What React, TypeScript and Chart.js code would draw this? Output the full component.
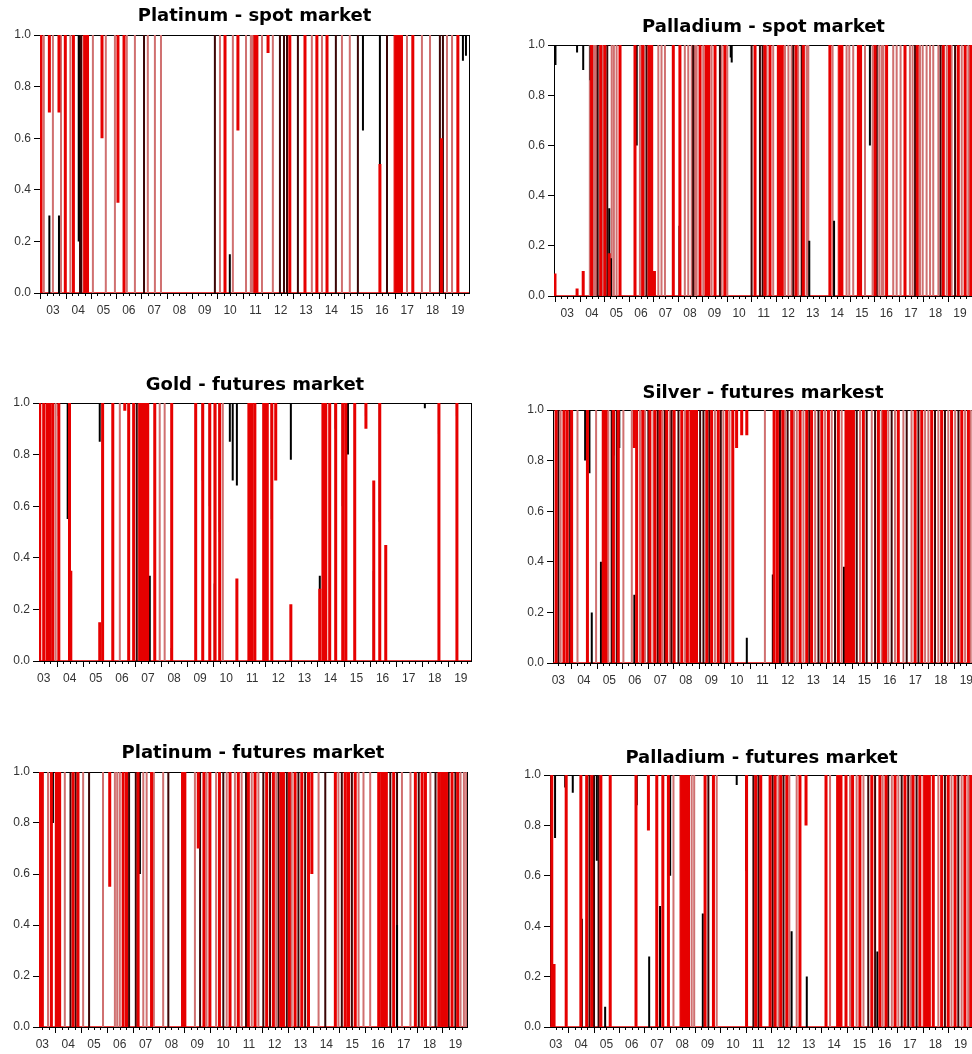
import React, { useEffect, useRef } from "react";
import { Chart, registerables } from "chart.js";

Chart.register(...registerables);

type Seg = [number, number, number];
type Band = [number, number];

// ---------------- axis labels ----------------
const xTickYears = [2003, 2004, 2005, 2006, 2007, 2008, 2009, 2010, 2011, 2012, 2013, 2014, 2015, 2016, 2017, 2018, 2019];
const yTickValues = [0, 0.2, 0.4, 0.6, 0.8, 1.0];

// ---------------- Platinum - spot market ----------------
const ptSpotPeriod = [2002.99, 2019.94];
const ptSpotBold = [2003.03, 2003.99, 2004.31, 2006.31, 2010.3, 2011.48, 2011.56, 2012.86, 2013.46, 2013.93, 2014.33, 2017.72, 2019.5];
const ptSpotThin = [2003.14, 2003.5, 2003.82, 2004.19, 2005.08, 2005.59, 2005.95, 2006.42, 2006.74, 2007.25, 2007.53, 2007.77, 2010.1, 2010.61, 2011.13, 2011.32, 2011.4, 2011.76, 2012.19, 2013.73, 2014.13, 2014.92, 2015.23, 2017.49, 2018.08, 2018.4, 2019.07, 2019.27];
const ptSpotDark = [2004.57, 2004.62, 2007.1, 2009.9, 2012.47, 2012.63, 2012.75, 2013.18, 2014.68, 2015.55, 2016.7, 2018.79, 2018.91];
const ptSpotBands: Band[] = [[2004.7, 2004.9], [2016.98, 2017.3]];
const ptSpotRedPart: Seg[] = [[2003.36, 1, 0.7], [2003.74, 1, 0.7], [2005.44, 1, 0.6], [2006.07, 1, 0.35], [2010.81, 1, 0.63], [2012.0, 1, 0.93], [2016.42, 0, 0.5], [2018.85, 0, 0.6]];
const ptSpotBlackPart: Seg[] = [[2003.36, 0, 0.3], [2003.74, 0, 0.3], [2004.52, 1, 0.2], [2010.49, 0, 0.15], [2015.75, 1, 0.63], [2016.42, 1, 0.5], [2019.7, 1, 0.9], [2019.82, 1, 0.92]];

// ---------------- Palladium - spot market ----------------
const pdSpotPeriod = [2002.96, 2020.03];
const pdSpotBold = [2004.49, 2004.86, 2005.03, 2005.65, 2006.26, 2006.57, 2006.83, 2006.94, 2007.82, 2008.09, 2008.91, 2009.52, 2009.92, 2011.15, 2011.55, 2011.76, 2012.1, 2012.17, 2012.26, 2012.82, 2013.12, 2014.2, 2015.36, 2015.45, 2016.04, 2016.51, 2017.26, 2017.76, 2018.82, 2019.07, 2019.43, 2019.71, 2019.94];
const pdSpotThin = [2004.42, 2004.59, 2004.67, 2004.94, 2005.31, 2005.4, 2005.51, 2006.46, 2006.64, 2007.21, 2007.34, 2007.48, 2008.29, 2008.43, 2008.57, 2008.7, 2008.77, 2009.04, 2009.38, 2009.79, 2010.02, 2011.62, 2011.89, 2012.37, 2012.51, 2012.64, 2012.91, 2013.25, 2013.32, 2014.31, 2014.88, 2014.99, 2015.15, 2015.63, 2015.94, 2016.21, 2016.31, 2016.38, 2016.78, 2016.92, 2017.08, 2017.46, 2017.57, 2017.87, 2017.98, 2018.14, 2018.28, 2018.41, 2018.62, 2018.96, 2019.16, 2019.57, 2019.84];
const pdSpotDark = [2004.74, 2005.13, 2006.73, 2008.63, 2009.72, 2011.01, 2011.35, 2011.46, 2012.71, 2013.05, 2016.11, 2017.67, 2018.71, 2019.3];
const pdSpotBands: Band[] = [[2009.11, 2009.3], [2014.54, 2014.72]];
const pdSpotRedPart: Seg[] = [[2003.0, 0, 0.09], [2003.9, 0, 0.03], [2004.15, 0, 0.1], [2005.21, 0, 0.17], [2007.05, 0, 0.1]];
const pdSpotBlackPart: Seg[] = [[2003.02, 1, 0.92], [2003.9, 1, 0.97], [2004.15, 1, 0.9], [2004.45, 1, 0.86], [2005.21, 0, 0.35], [2005.28, 0, 0.15], [2006.33, 1, 0.6], [2007.05, 0, 0.1], [2008.07, 0, 0.28], [2010.16, 1, 0.95], [2010.2, 1, 0.93], [2013.36, 0, 0.22], [2014.37, 0, 0.3], [2015.83, 1, 0.6]];

// ---------------- Gold - futures market ----------------
const auFutPeriod = [2003.32, 2019.89];
const auFutBold = [2003.35, 2003.5, 2003.63, 2003.73, 2003.85, 2004.08, 2004.49, 2005.76, 2006.15, 2006.76, 2006.95, 2007.18, 2007.29, 2007.38, 2007.49, 2007.76, 2008.41, 2009.33, 2009.6, 2009.87, 2010.25, 2011.37, 2011.48, 2011.6, 2012.25, 2014.21, 2014.32, 2014.47, 2014.7, 2014.97, 2015.09, 2015.43, 2016.39, 2018.66, 2019.35];
const auFutThin = [2003.96, 2006.42, 2007.95, 2008.14, 2010.37];
const auFutDark = [2007.07];
const auFutBands: Band[] = [[2007.18, 2007.32], [2010.03, 2010.1], [2011.9, 2012.1]];
const auFutRedPart: Seg[] = [[2004.54, 0, 0.35], [2005.65, 0, 0.15], [2006.61, 1, 0.97], [2010.91, 0, 0.32], [2012.4, 1, 0.7], [2012.98, 0, 0.22], [2014.09, 0, 0.28], [2015.86, 1, 0.9], [2016.16, 0, 0.7], [2016.62, 0, 0.45]];
const auFutBlackPart: Seg[] = [[2003.35, 0, 0.22], [2003.63, 0, 0.35], [2003.73, 1, 0.65], [2003.75, 0, 0.35], [2004.08, 1, 0.95], [2004.42, 1, 0.55], [2004.45, 1, 0.6], [2005.65, 1, 0.85], [2007.29, 0, 0.3], [2007.57, 0, 0.33], [2008.41, 0, 0.05], [2009.6, 1, 0.7], [2009.87, 1, 0.6], [2010.06, 0, 0.3], [2010.25, 1, 0.5], [2010.64, 1, 0.85], [2010.75, 1, 0.7], [2010.91, 1, 0.68], [2012.25, 1, 0.55], [2012.98, 1, 0.78], [2014.09, 0, 0.33], [2014.7, 1, 0.9], [2014.97, 1, 0.6], [2015.17, 1, 0.8], [2015.86, 1, 0.95], [2016.16, 0, 0.35], [2016.39, 1, 0.54], [2018.12, 1, 0.98], [2018.66, 1, 0.88], [2019.35, 1, 0.95]];

// ---------------- Silver - futures markest ----------------
const agFutPeriod = [2003.29, 2019.76];
const agFutBold = [2003.41, 2003.72, 2003.85, 2004.02, 2004.64, 2005.26, 2005.37, 2005.66, 2005.85, 2006.57, 2006.81, 2007.09, 2007.29, 2007.49, 2007.75, 2008.04, 2008.34, 2008.56, 2009.32, 2009.51, 2009.77, 2010.1, 2010.34, 2011.96, 2012.09, 2012.3, 2012.65, 2012.98, 2013.24, 2013.43, 2013.83, 2014.09, 2014.48, 2015.46, 2016.05, 2016.83, 2017.49, 2017.75, 2018.14, 2018.53, 2018.92, 2019.32, 2019.58];
const agFutThin = [2003.59, 2004.25, 2004.98, 2005.46, 2006.05, 2006.38, 2006.7, 2006.9, 2007.23, 2007.59, 2007.88, 2008.47, 2009.64, 2009.97, 2010.21, 2011.6, 2012.39, 2012.74, 2012.85, 2013.11, 2013.57, 2013.96, 2014.22, 2014.61, 2015.33, 2015.79, 2016.18, 2016.44, 2016.7, 2017.03, 2017.35, 2017.88, 2018.01, 2018.4, 2018.79, 2019.06, 2019.45, 2019.67];
const agFutDark = [2003.5, 2003.96, 2005.59, 2005.79, 2007.03, 2007.4, 2007.68, 2007.94, 2008.21, 2009.06, 2009.19, 2009.42, 2009.87, 2012.19, 2012.49, 2013.34, 2013.7, 2014.35, 2015.2, 2015.59, 2015.92, 2016.57, 2017.16, 2017.62, 2018.27, 2018.66, 2019.19];
const agFutBands: Band[] = [[2008.66, 2008.95], [2014.74, 2015.1], [2016.22, 2016.36]];
const agFutRedPart: Seg[] = [[2006.48, 1, 0.85], [2010.49, 1, 0.85], [2010.69, 1, 0.9], [2010.89, 1, 0.9]];
const agFutBlackPart: Seg[] = [[2004.55, 1, 0.8], [2004.72, 1, 0.75], [2004.81, 0, 0.2], [2005.17, 0, 0.4], [2005.68, 1, 0.82], [2005.89, 1, 0.85], [2006.48, 0, 0.27], [2010.89, 0, 0.1], [2011.91, 0, 0.35], [2014.7, 0, 0.38]];

// ---------------- Platinum - futures market ----------------
const ptFutPeriod = [2003.37, 2019.95];
const ptFutBold = [2003.4, 2003.5, 2003.85, 2004.04, 2004.11, 2004.17, 2004.69, 2004.88, 2006.63, 2006.76, 2007.21, 2007.73, 2008.93, 2009.02, 2009.76, 2009.99, 2010.36, 2010.77, 2011.09, 2011.48, 2011.74, 2012.19, 2012.45, 2012.74, 2012.84, 2013.07, 2013.29, 2013.55, 2013.81, 2014.85, 2015.23, 2015.36, 2015.62, 2016.53, 2017.11, 2017.95, 2018.21, 2018.34, 2018.86, 2019.37, 2019.59];
const ptFutThin = [2003.72, 2004.37, 2005.08, 2005.85, 2006.31, 2006.4, 2006.5, 2007.41, 2007.54, 2007.82, 2008.18, 2009.41, 2009.86, 2010.23, 2010.64, 2010.96, 2011.22, 2011.61, 2011.87, 2012.56, 2013.16, 2014.2, 2014.97, 2015.75, 2015.94, 2016.2, 2017.43, 2017.76, 2018.53, 2019.7, 2019.83, 2019.92];
const ptFutDark = [2004.59, 2004.79, 2005.31, 2006.86, 2007.12, 2008.38, 2009.61, 2010.51, 2011.39, 2012.06, 2012.32, 2012.65, 2012.97, 2013.42, 2013.68, 2014.46, 2015.1, 2015.49, 2016.98, 2017.24, 2018.08, 2018.73, 2019.24, 2019.5];
const ptFutBands: Band[] = [[2004.04, 2004.17], [2015.3, 2015.4], [2016.59, 2016.85], [2018.92, 2019.18]];
const ptFutRedPart: Seg[] = [[2006.11, 1, 0.55], [2009.54, 1, 0.7], [2013.94, 1, 0.6]];
const ptFutBlackPart: Seg[] = [[2003.91, 1, 0.8], [2007.28, 1, 0.6], [2008.93, 0, 0.3], [2017.24, 0, 0.4]];

// ---------------- Palladium - futures market ----------------
const pdFutPeriod = [2003.27, 2019.99];
const pdFutBold = [2003.34, 2003.91, 2004.49, 2004.72, 2004.92, 2005.28, 2005.65, 2006.67, 2007.49, 2007.73, 2007.95, 2009.4, 2009.73, 2011.04, 2011.4, 2011.6, 2011.97, 2012.17, 2012.39, 2012.63, 2013.15, 2014.18, 2014.97, 2015.23, 2015.52, 2015.99, 2016.31, 2016.55, 2016.91, 2017.3, 2017.62, 2017.89, 2018.42, 2018.75, 2019.01, 2019.28, 2019.67, 2019.9];
const pdFutThin = [2008.15, 2008.87, 2008.97, 2009.86, 2012.3, 2012.73, 2013.02, 2014.34, 2015.13, 2015.39, 2015.66, 2016.42, 2016.78, 2017.04, 2017.53, 2018.62, 2019.14, 2019.54, 2019.8];
const pdFutDark = [2004.83, 2005.01, 2005.19, 2009.53, 2011.31, 2011.51, 2012.07, 2012.5, 2015.85, 2016.12, 2016.64, 2017.17, 2017.43, 2017.76, 2018.88, 2019.41];
const pdFutBands: Band[] = [[2008.41, 2008.78], [2014.6, 2014.8], [2018.02, 2018.29]];
const pdFutRedPart: Seg[] = [[2003.43, 0, 0.25], [2007.16, 1, 0.78], [2013.39, 1, 0.8]];
const pdFutBlackPart: Seg[] = [[2003.47, 1, 0.75], [2003.87, 1, 0.95], [2004.17, 1, 0.93], [2004.53, 0, 0.43], [2005.12, 1, 0.66], [2005.45, 0, 0.08], [2006.7, 1, 0.88], [2007.19, 0, 0.28], [2007.62, 0, 0.48], [2008.02, 1, 0.6], [2009.31, 0, 0.45], [2010.65, 1, 0.96], [2011.02, 1, 0.62], [2012.82, 0, 0.38], [2013.42, 0, 0.2], [2016.21, 0, 0.3]];

// ---------------- panel layout ----------------
type PanelData = {
  title: string;
  period: number[];
  bold: number[];
  thin: number[];
  dark: number[];
  bands: Band[];
  redPart: Seg[];
  blackPart: Seg[];
};
type PanelBox = { L: number; R: number; T: number; B: number; cl: number; cw: number; gap: number };

const panels: { data: PanelData; box: PanelBox }[] = [
  { data: { title: "Platinum - spot market", period: ptSpotPeriod, bold: ptSpotBold, thin: ptSpotThin, dark: ptSpotDark, bands: ptSpotBands, redPart: ptSpotRedPart, blackPart: ptSpotBlackPart }, box: { L: 40, R: 469, T: 35, B: 293, cl: 0, cw: 480, gap: 13.3 } },
  { data: { title: "Palladium - spot market", period: pdSpotPeriod, bold: pdSpotBold, thin: pdSpotThin, dark: pdSpotDark, bands: pdSpotBands, redPart: pdSpotRedPart, blackPart: pdSpotBlackPart }, box: { L: 554, R: 973, T: 45, B: 296, cl: 490, cw: 490, gap: 12 } },
  { data: { title: "Gold - futures market", period: auFutPeriod, bold: auFutBold, thin: auFutThin, dark: auFutDark, bands: auFutBands, redPart: auFutRedPart, blackPart: auFutBlackPart }, box: { L: 39, R: 471, T: 403, B: 661, cl: 0, cw: 480, gap: 12.3 } },
  { data: { title: "Silver - futures markest", period: agFutPeriod, bold: agFutBold, thin: agFutThin, dark: agFutDark, bands: agFutBands, redPart: agFutRedPart, blackPart: agFutBlackPart }, box: { L: 553, R: 973, T: 410, B: 663, cl: 490, cw: 490, gap: 11.7 } },
  { data: { title: "Platinum - futures market", period: ptFutPeriod, bold: ptFutBold, thin: ptFutThin, dark: ptFutDark, bands: ptFutBands, redPart: ptFutRedPart, blackPart: ptFutBlackPart }, box: { L: 39, R: 467, T: 772, B: 1027, cl: 0, cw: 480, gap: 13 } },
  { data: { title: "Palladium - futures market", period: pdFutPeriod, bold: pdFutBold, thin: pdFutThin, dark: pdFutDark, bands: pdFutBands, redPart: pdFutRedPart, blackPart: pdFutBlackPart }, box: { L: 550, R: 973, T: 775, B: 1027, cl: 490, cw: 490, gap: 11.3 } },
];

// ---------------- helpers to build library datasets ----------------
type P = { x: number; y: number | null };
function fullLines(xs: number[]): P[] {
  const pts: P[] = [];
  xs.forEach((x) => pts.push({ x, y: 0 }, { x, y: 1 }, { x, y: null }));
  return pts;
}
function partLines(list: Seg[]): P[] {
  const pts: P[] = [];
  list.forEach(([x, a, b]) => pts.push({ x, y: a }, { x, y: b }, { x, y: null }));
  return pts;
}
function bandPoints(list: Band[]): P[] {
  const pts: P[] = [];
  list.forEach(([s, e]) => pts.push({ x: s, y: 0 }, { x: s, y: 1 }, { x: e, y: 1 }, { x: e, y: 0 }, { x: e, y: null }));
  return pts;
}

const RED = "#e60000";
const PINK = "#d07070";
const DARK = "#3a0505";

const framePlugin = {
  id: "frame",
  beforeDatasetsDraw(chart: any) {
    const { ctx, chartArea } = chart;
    ctx.save();
    ctx.strokeStyle = "#000";
    ctx.lineWidth = 1;
    ctx.strokeRect(Math.round(chartArea.left) + 0.5, Math.round(chartArea.top) + 0.5, Math.round(chartArea.right - chartArea.left), Math.round(chartArea.bottom - chartArea.top));
    ctx.restore();
  },
};

const quarterTicksPlugin = {
  id: "quarterTicks",
  afterDraw(chart: any) {
    const { ctx, chartArea } = chart;
    const xs = chart.scales.x;
    ctx.save();
    ctx.strokeStyle = "#000";
    ctx.lineWidth = 1;
    ctx.beginPath();
    for (let q = Math.ceil(xs.min * 4); q <= Math.floor(xs.max * 4); q++) {
      const px = Math.round(xs.getPixelForValue(q / 4)) + 0.5;
      const len = q % 4 === 0 ? 6 : 3;
      ctx.moveTo(px, Math.round(chartArea.bottom));
      ctx.lineTo(px, Math.round(chartArea.bottom) + len);
    }
    ctx.stroke();
    ctx.restore();
  },
};

function Panel({ data, box }: { data: PanelData; box: PanelBox }) {
  const ref = useRef<HTMLCanvasElement>(null);
  const ct = box.T - 40;
  const ch = box.B - ct + 28;
  useEffect(() => {
    const titlePadBottom = box.gap - 5.4;
    const titleH = 18 * 1.2 + titlePadBottom;
    const [x0, x1] = data.period;
    const common = { pointRadius: 0, tension: 0, spanGaps: false, fill: false };
    const chart = new Chart(ref.current as HTMLCanvasElement, {
      type: "line",
      data: {
        datasets: [
          { ...common, data: bandPoints(data.bands), borderColor: RED, backgroundColor: RED, borderWidth: 1, fill: "origin", order: 0 } as any,
          { ...common, data: partLines(data.redPart), borderColor: RED, borderWidth: 3, order: 1 },
          { ...common, data: fullLines(data.bold), borderColor: RED, borderWidth: 3, order: 2 },
          { ...common, data: partLines(data.blackPart), borderColor: "#000", borderWidth: 2, order: 3 },
          { ...common, data: fullLines(data.dark), borderColor: DARK, borderWidth: 2, order: 4 },
          { ...common, data: fullLines(data.thin), borderColor: PINK, borderWidth: 2, order: 5 },
          { ...common, data: [{ x: x0, y: 0 }, { x: x1, y: 0 }], borderColor: RED, borderWidth: 1.5, order: 6 },
          { ...common, data: [{ x: x0, y: 1 }, { x: x1, y: 1 }], borderColor: "#000", borderWidth: 1.5, order: 7 },
        ],
      },
      options: {
        responsive: false,
        maintainAspectRatio: false,
        animation: false,
        devicePixelRatio: 1,
        events: [],
        layout: { padding: { top: 40 - titleH, left: 0, right: box.cl + box.cw - box.R, bottom: 0 } },
        plugins: {
          legend: { display: false },
          tooltip: { enabled: false },
          title: {
            display: true,
            text: data.title,
            fullSize: false,
            color: "#000",
            font: { family: "DejaVu Sans", size: 18, weight: "bold", lineHeight: 1.2 },
            padding: { top: 0, bottom: titlePadBottom },
          },
        },
        scales: {
          x: {
            type: "linear",
            min: x0,
            max: x1,
            grid: { display: false },
            border: { display: false },
            afterBuildTicks: (s: any) => {
              s.ticks = xTickYears.map((y) => ({ value: y + 0.5 }));
            },
            afterFit: (s: any) => {
              s.height = ch - (box.B - ct);
            },
            ticks: {
              autoSkip: false,
              maxRotation: 0,
              padding: 2,
              color: "#333",
              font: { family: "Liberation Sans", size: 12 },
              callback: (v: any) => String(Math.floor(Number(v)) % 100).padStart(2, "0"),
            },
          },
          y: {
            type: "linear",
            min: 0,
            max: 1,
            grid: { display: true, drawOnChartArea: false, drawTicks: true, tickLength: 6, color: "#000" },
            border: { display: false },
            afterBuildTicks: (s: any) => {
              s.ticks = yTickValues.map((v) => ({ value: v }));
            },
            afterFit: (s: any) => {
              s.width = box.L - box.cl;
            },
            ticks: {
              padding: 3,
              color: "#333",
              font: { family: "Liberation Sans", size: 12 },
              callback: (v: any) => Number(v).toFixed(1),
            },
          },
        },
      } as any,
      plugins: [framePlugin, quarterTicksPlugin],
    });
    return () => chart.destroy();
  }, []);
  return (
    <canvas
      ref={ref}
      width={box.cw}
      height={ch}
      style={{ position: "absolute", left: box.cl, top: ct, width: box.cw, height: ch }}
    />
  );
}

export default function App() {
  return (
    <div style={{ position: "absolute", left: 0, top: 0, width: 972, height: 1054, overflow: "hidden", background: "#fff" }}>
      {panels.map((p, i) => (
        <Panel key={i} data={p.data} box={p.box} />
      ))}
    </div>
  );
}
